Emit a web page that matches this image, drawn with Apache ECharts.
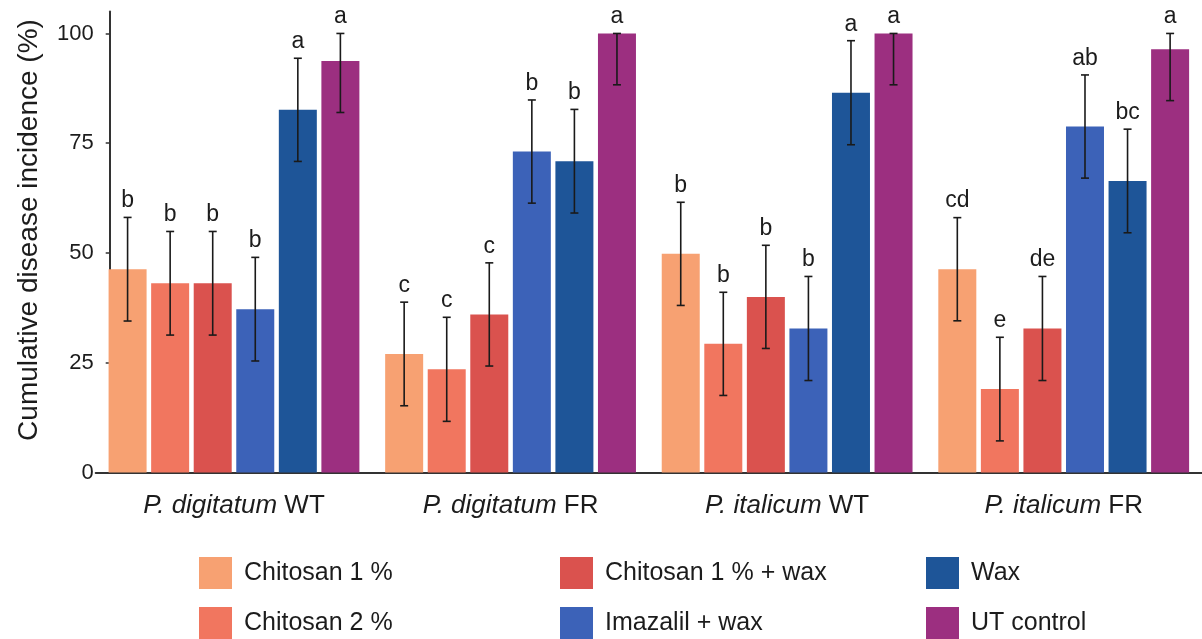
<!DOCTYPE html>
<html>
<head>
<meta charset="utf-8">
<title>Cumulative disease incidence</title>
<script src="https://cdn.jsdelivr.net/npm/echarts@6/dist/echarts.min.js"></script>
<style>
    html, body { margin: 0; padding: 0; background: #fff; }
    #chart { width: 1202px; height: 639px; }
</style>
</head>
<body>
<div id="chart"></div>
<script>
// categories (species in italics + strain)
var species = ['P. digitatum', 'P. digitatum', 'P. italicum', 'P. italicum'];
var strains = ['WT', 'FR', 'WT', 'FR'];
var yTicks = [0, 25, 50, 75, 100];

// treatments
var treatments = ['Chitosan 1 %', 'Chitosan 2 %', 'Chitosan 1 % + wax', 'Imazalil + wax', 'Wax', 'UT control'];

// mean incidence (%) per category
var chitosan1 = [46.3, 27.0, 49.8, 46.3];
var chitosan2 = [43.1, 23.5, 29.3, 19.0];
var chitosan1Wax = [43.1, 36.0, 40.0, 32.8];
var imazalilWax = [37.2, 73.1, 32.8, 78.8];
var wax = [82.6, 70.9, 86.5, 66.4];
var utControl = [93.7, 100, 100, 96.4];

// error bar half widths
var errChitosan1 = [11.8, 11.8, 11.75, 11.75];
var errChitosan2 = [11.8, 11.85, 11.75, 11.8];
var errChitosan1Wax = [11.8, 11.75, 11.75, 11.85];
var errImazalilWax = [11.8, 11.75, 11.85, 11.75];
var errWax = [11.75, 11.8, 11.85, 11.8];
var errUtControl = [11.7, 11.7, 11.7, 11.7];

// significance letters
var lettersChitosan1 = ['b', 'c', 'b', 'cd'];
var lettersChitosan2 = ['b', 'c', 'b', 'e'];
var lettersChitosan1Wax = ['b', 'c', 'b', 'de'];
var lettersImazalilWax = ['b', 'b', 'b', 'ab'];
var lettersWax = ['a', 'b', 'a', 'bc'];
var lettersUtControl = ['a', 'a', 'a', 'a'];

var values = [chitosan1, chitosan2, chitosan1Wax, imazalilWax, wax, utControl];
var errors = [errChitosan1, errChitosan2, errChitosan1Wax, errImazalilWax, errWax, errUtControl];
var letters = [lettersChitosan1, lettersChitosan2, lettersChitosan1Wax, lettersImazalilWax, lettersWax, lettersUtControl];
var colors = ['#F7A172', '#F1765F', '#DA524E', '#3C62B8', '#1E5598', '#9C2F80'];

var BAR_WIDTH = 38;
var BAR_GAP = 0.12; // fraction of bar width
var FONT = '"Liberation Sans", Arial, sans-serif';
var TEXT = '#1c1c1c';
var AXIS = '#333';

var categories = [];
for (var c = 0; c < species.length; c++) {
    categories.push(species[c] + ' ' + strains[c]);
}

function errorRenderer(seriesIdx) {
    return function (params, api) {
        var cat = api.value(0);
        var low = api.coord([cat, api.value(1)]);
        var high = api.coord([cat, api.value(2)]);
        var pitch = BAR_WIDTH * (1 + BAR_GAP);
        var x = low[0] + (seriesIdx - (treatments.length - 1) / 2) * pitch;
        var cap = 4;
        var style = { stroke: '#1a1a1a', lineWidth: 1.6 };
        return {
            type: 'group',
            children: [
                { type: 'line', shape: { x1: x, y1: low[1], x2: x, y2: high[1] }, style: style },
                { type: 'line', shape: { x1: x - cap, y1: low[1], x2: x + cap, y2: low[1] }, style: style },
                { type: 'line', shape: { x1: x - cap, y1: high[1], x2: x + cap, y2: high[1] }, style: style },
                {
                    type: 'text',
                    x: x,
                    y: high[1] - 5,
                    style: {
                        text: letters[seriesIdx][params.dataIndex],
                        fill: TEXT,
                        font: '23px ' + FONT,
                        align: 'center',
                        verticalAlign: 'bottom'
                    }
                }
            ]
        };
    };
}

var series = [];
for (var i = 0; i < treatments.length; i++) {
    series.push({
        name: treatments[i],
        type: 'bar',
        barWidth: BAR_WIDTH,
        barGap: (BAR_GAP * 100) + '%',
        itemStyle: { color: colors[i] },
        data: values[i],
        animation: false
    });
}
for (var j = 0; j < treatments.length; j++) {
    var errData = [];
    for (var k = 0; k < categories.length; k++) {
        errData.push([k, values[j][k] - errors[j][k], Math.min(100, values[j][k] + errors[j][k])]);
    }
    series.push({
        name: treatments[j],
        type: 'custom',
        renderItem: errorRenderer(j),
        encode: { x: 0, y: [1, 2] },
        data: errData,
        z: 5,
        silent: true,
        animation: false
    });
}

// one legend per entry: 3 columns x 2 rows
var legendLefts = [199, 199, 560, 560, 926, 926];
var legendTops = [557, 607, 557, 607, 557, 607];
var legends = [];
for (var m = 0; m < treatments.length; m++) {
    legends.push({
        data: [treatments[m]],
        left: legendLefts[m],
        top: legendTops[m],
        padding: 0,
        itemWidth: 33,
        itemHeight: 32,
        itemGap: 0,
        icon: 'rect',
        textStyle: { fontFamily: FONT, fontSize: 25, color: TEXT, padding: [0, 0, 0, 7] }
    });
}

var chart = echarts.init(document.getElementById('chart'), null, { renderer: 'canvas' });
var option = {
    backgroundColor: '#fff',
    animation: false,
    grid: { left: 95.7, right: -32.3, top: 11.5, bottom: 166.5, containLabel: false },
    legend: legends,
    xAxis: {
        type: 'category',
        data: categories,
        axisLine: { lineStyle: { color: AXIS, width: 2 } },
        axisTick: { alignWithLabel: true, length: 4, lineStyle: { color: AXIS, width: 1.5 } },
        axisLabel: {
            margin: 20,
            color: TEXT,
            fontFamily: FONT,
            fontSize: 26,
            formatter: function (v, idx) {
                return '{i|' + species[idx] + '} ' + strains[idx];
            },
            rich: {
                i: { fontStyle: 'italic', fontFamily: FONT, fontSize: 26, color: TEXT }
            }
        }
    },
    yAxis: {
        type: 'value',
        min: 0,
        max: 105,
        offset: -14,
        name: 'Cumulative disease incidence (%)',
        nameLocation: 'middle',
        nameGap: 66,
        nameTextStyle: { fontFamily: FONT, fontSize: 28, color: TEXT, padding: [0, 0, 0, 24] },
        splitLine: { show: false },
        axisLine: { show: true, lineStyle: { color: AXIS, width: 2 } },
        axisTick: { show: true, length: 4, customValues: yTicks, lineStyle: { color: AXIS, width: 1.5 } },
        axisLabel: { customValues: yTicks, margin: 16, color: TEXT, fontFamily: FONT, fontSize: 22 }
    },
    series: series
};
chart.setOption(option);
</script>
</body>
</html>
